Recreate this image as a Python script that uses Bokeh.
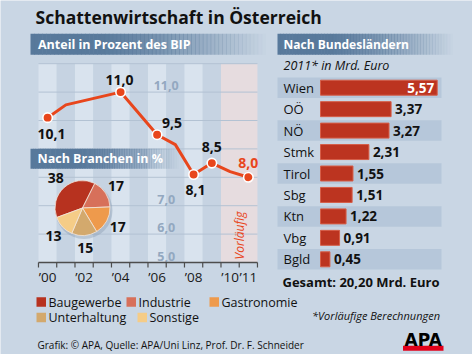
import math
from bokeh.plotting import figure
from bokeh.models import Range1d
from bokeh.embed import file_html
from bokeh.resources import INLINE
from bokeh.core.properties import value

# ---------------- data ----------------
title = "Schattenwirtschaft in Österreich"
head_line = "Anteil in Prozent des BIP"
head_pie = "Nach Branchen in %"
head_bar = "Nach Bundesländern"
sub_bar = "2011* in Mrd. Euro"

years = [2000, 2001, 2004, 2006, 2007, 2008, 2009, 2010, 2011]
share_pct = [10.1, 10.55, 11.0, 9.5, 9.15, 8.1, 8.5, 8.2, 8.0]
labelled_years = [2000, 2004, 2006, 2008, 2009, 2011]
forecast_years = [2010, 2011]
forecast_label = "Vorläufig"
tick_years = [2000, 2002, 2004, 2006, 2008, 2010, 2011]
tick_labels = ["’00", "’02", "’04", "’06", "’08", "’10", "’11"]
value_ticks = [11.0, 7.0, 6.0, 5.0]
grid_values = [6, 7, 8, 9, 10, 11, 12]

branches = ["Baugewerbe", "Industrie", "Gastronomie", "Unterhaltung", "Sonstige"]
branch_pct = [38, 17, 17, 15, 13]

states = ["Wien", "OÖ", "NÖ", "Stmk", "Tirol", "Sbg", "Ktn", "Vbg", "Bgld"]
state_bn = [5.57, 3.37, 3.27, 2.31, 1.55, 1.51, 1.22, 0.91, 0.45]
total_bn = 20.20
total_text = "Gesamt: 20,20 Mrd. Euro"
note_text = "*Vorläufige Berechnungen"
source_text = "Grafik: © APA, Quelle: APA/Uni Linz, Prof. Dr. F. Schneider"

# ---------------- style ----------------
W, H = 472, 354
FONT = value("Open Sans")
BG = "#c9d6e4"
HEAD = "#58799b"
LINE = "#e8461c"
BAR = "#bc3420"
BAR_EDGE = "#d65e48"
BAND = "#b6c7da"
STRIPE_LIGHT = "#d9e3ee"
STRIPE_DARK = "#c6d3e2"
FORECAST_BAND = "#e6dcdf"
GRID = "#b3c2d3"
AXIS = "#4d4d4d"
VALUE_TICK = "#93a8c0"
BRANCH_COLORS = ["#b7321f", "#d7705a", "#ee9a4c", "#d3a96d", "#f5cc87"]


def fmt(v, d=1):
    return f"{v:.{d}f}".replace(".", ",")


def Y(ypix):
    return H - ypix


p = figure(width=W, height=H, x_range=Range1d(0, W), y_range=Range1d(0, H),
           output_backend="svg", toolbar_location=None, x_axis_type=None,
           y_axis_type=None, min_border=0, min_border_left=0, min_border_right=0,
           min_border_top=0, min_border_bottom=0, outline_line_color=None,
           background_fill_color=BG, border_fill_color=BG)
p.grid.visible = False

# ---- scales for the line chart (years / percent) ----
YR_X0, YR_PX = 47.1, 18.25      # pixel of year 2000, pixels per year
PCT_Y5, PCT_PX = 262.0, 28.4    # pixel (from top) of 5.0 %, pixels per point
p.extra_x_ranges["yr"] = Range1d(2000 - YR_X0 / YR_PX, 2000 + (W - YR_X0) / YR_PX)
yb5 = H - PCT_Y5
p.extra_y_ranges["pct"] = Range1d(5 - yb5 / PCT_PX, 5 + (H - yb5) / PCT_PX)

# ---- scales for the bar chart ----
EUR_X0, EUR_PX = 320.0, 20.95
p.extra_x_ranges["eur"] = Range1d(-EUR_X0 / EUR_PX, (W - EUR_X0) / EUR_PX)
ROW_Y0, ROW_PX = 87.2, 21.45
r0 = H - ROW_Y0
p.extra_y_ranges["row"] = Range1d(r0 / ROW_PX, (r0 - H) / ROW_PX)

LC = dict(x_range_name="yr", y_range_name="pct")
MID = dict(text_baseline="middle")

# ---- title ----
p.text(x=[35], y=[Y(16.5)], text=[title], text_font=FONT, text_font_size="17.5px",
       text_font_style="bold", text_color="#111111", **MID)


# ---- header bars with fade ----
def header(x0, x1, y0, y1, solid=0.3, n=60):
    lefts, rights, alphas = [], [], []
    for k in range(n):
        lefts.append(x0 + (x1 - x0) * k / n)
        rights.append(x0 + (x1 - x0) * (k + 1) / n + 0.6)
        t = (k + 0.5) / n
        t = 0 if t < solid else (t - solid) / (1 - solid)
        alphas.append(max(0.0, 1 - t ** 1.2))
    p.quad(left=lefts, right=rights, top=Y(y0), bottom=Y(y1), fill_color=HEAD,
           fill_alpha=alphas, line_color=None)


header(30, 265, 33.3, 54.3)
header(277, 452, 33.3, 54.3)
p.text(x=[37.5], y=[Y(43.8)], text=[head_line], text_font=FONT, text_font_size="12.5px",
       text_font_style="bold", text_color="white", **MID)
p.text(x=[283], y=[Y(43.8)], text=[head_bar], text_font=FONT, text_font_size="12px",
       text_font_style="bold", text_color="white", **MID)
p.text(x=[283], y=[Y(64.5)], text=[sub_bar], text_font=FONT, text_font_size="12.5px",
       text_font_style="italic", text_color="#111111", **MID)

# ---- line chart background ----
first, last = min(tick_years), max(tick_years)
hist = [yr for yr in range(first, last + 1) if yr not in forecast_years]
p.quad(left=[yr - 0.5 for yr in hist], right=[yr + 0.5 for yr in hist],
       bottom=5.0, top=max(grid_values),
       fill_color=[STRIPE_LIGHT if yr % 2 == 0 else STRIPE_DARK for yr in hist],
       line_color=None, **LC)
p.quad(left=[min(forecast_years) - 0.5], right=[max(forecast_years) + 0.5],
       bottom=5.0, top=max(grid_values), fill_color=FORECAST_BAND, line_color=None, **LC)
p.segment(x0=first - 0.5, x1=last + 0.5, y0=grid_values, y1=grid_values,
          line_color=GRID, line_width=1, **LC)
p.text(x=[2006.5] * len(value_ticks), y=value_ticks, text=[fmt(v) for v in value_ticks],
       y_offset=-2, text_font=FONT, text_font_size="12.5px", text_font_style="bold",
       text_color=VALUE_TICK, text_align="center", text_baseline="bottom", **LC)
p.text(x=[max(forecast_years) - 0.5], y=[5.95], text=[forecast_label], angle=math.pi / 2,
       text_font=FONT, text_font_size="12px", text_font_style="italic",
       text_color=LINE, text_align="center", text_baseline="middle", **LC)

# axis
p.segment(x0=[first - 0.5], x1=[last + 0.5], y0=[5.0], y1=[5.0],
          line_color=AXIS, line_width=1.5, **LC)
bounds = [yr - 0.5 for yr in range(first, last + 2)]
p.segment(x0=bounds, x1=bounds, y0=5.0, y1=5.0 - 5 / PCT_PX,
          line_color=AXIS, line_width=1.2, **LC)
p.text(x=tick_years, y=[5.0] * len(tick_years), text=tick_labels, y_offset=14,
       text_font=FONT, text_font_size="13.5px", text_color="#1a1a1a",
       text_align="center", text_baseline="middle", **LC)

# pie header (semi transparent over the chart)
header(30, 178, 148.3, 168.3, solid=0.35)
p.text(x=[37], y=[Y(158)], text=[head_pie], text_font=FONT, text_font_size="12.5px",
       text_font_style="bold", text_color="white", **MID)

# the line
p.line(x=years, y=share_pct, line_color=LINE, line_width=3, line_join="round", **LC)
lab_vals = [share_pct[years.index(yr)] for yr in labelled_years]
p.scatter(x=labelled_years, y=lab_vals, size=9.5, fill_color=LINE, line_color="white",
          line_width=1.6, **LC)
lab_dx = [4, -1, 15, 2, 0, 0]
lab_dy = [16.5, -12.5, -11.5, 16, -16, -14]
p.text(x=labelled_years, y=lab_vals, text=[fmt(v) for v in lab_vals],
       x_offset=lab_dx, y_offset=lab_dy, text_font=FONT, text_font_size="14px",
       text_font_style="bold",
       text_color=[LINE if yr in forecast_years else "#111111" for yr in labelled_years],
       text_align="center", text_baseline="middle", **LC)

# ---- pie ----
PCX, PCY, PR = 82.0, Y(207.5), 27.5
PIE_START = math.radians(200.2)
total_pct = sum(branch_pct)
starts, ends, mids = [], [], []
cum = 0
for v in branch_pct:
    a0 = PIE_START - 2 * math.pi * cum / total_pct
    cum += v
    a1 = PIE_START - 2 * math.pi * cum / total_pct
    starts.append(a1)
    ends.append(a0)
    mids.append((a0 + a1) / 2)
p.circle(x=[PCX + 1.5], y=[PCY - 2.5], radius=PR + 1, radius_units="screen",
         fill_color="#7f93a8", fill_alpha=0.35, line_color=None)
p.wedge(x=PCX, y=PCY, radius=PR, radius_units="screen", start_angle=starts,
        end_angle=ends, direction="anticlock", fill_color=BRANCH_COLORS,
        line_color="#f3e6dc", line_width=0.8)
LR = 40
p.text(x=[PCX + LR * math.cos(m) for m in mids], y=[PCY + LR * math.sin(m) for m in mids],
       text=[str(v) for v in branch_pct], text_font=FONT, text_font_size="14px",
       text_font_style="bold", text_color="#111111", text_align="center",
       text_baseline="middle")

# ---- legend ----
leg_x = [36, 126, 209, 36, 137]
leg_y = [301.5, 301.5, 301.5, 317.0, 317.0]
p.quad(left=leg_x, right=[x + 9.5 for x in leg_x], top=[Y(y - 4.75) for y in leg_y],
       bottom=[Y(y + 4.75) for y in leg_y], fill_color=BRANCH_COLORS, line_color=None)
p.text(x=[x + 12 for x in leg_x], y=[Y(y) for y in leg_y], text=branches,
       text_font=FONT, text_font_size="12.5px", text_color="#111111", **MID)

# ---- bar chart ----
RB = dict(y_range_name="row")
idx = list(range(len(states)))
band_idx = [i for i in idx if i % 2 == 0]
p.hbar(y=band_idx, left=277, right=441, height=20.5 / ROW_PX, fill_color=BAND,
       line_color=None, **RB)
p.text(x=[283] * len(states), y=idx, text=states, text_font=FONT, text_font_size="13px",
       text_color="#111111", text_baseline="middle", **RB)
p.hbar(y=idx, left=0, right=state_bn, height=15 / ROW_PX, fill_color=BAR,
       line_color=BAR_EDGE, line_width=1, x_range_name="eur", **RB)
vmax = max(state_bn)
inside = [i for i in idx if state_bn[i] == vmax]
outside = [i for i in idx if state_bn[i] != vmax]
p.text(x=[state_bn[i] for i in outside], y=outside, text=[fmt(state_bn[i], 2) for i in outside],
       x_offset=4, text_font=FONT, text_font_size="13.5px", text_font_style="bold",
       text_color="#111111", text_baseline="middle", x_range_name="eur", **RB)
p.text(x=[state_bn[i] for i in inside], y=inside, text=[fmt(state_bn[i], 2) for i in inside],
       x_offset=-3, text_font=FONT, text_font_size="13.5px", text_font_style="bold",
       text_color="white", text_align="right", text_baseline="middle",
       x_range_name="eur", **RB)
p.text(x=[282], y=[Y(281)], text=[total_text], text_font=FONT, text_font_size="13px",
       text_font_style="bold", text_color="#111111", **MID)
p.text(x=[439.5], y=[Y(314.5)], text=[note_text], text_font=FONT, text_font_size="11px",
       text_font_style="italic", text_color="#111111", text_align="right", **MID)

# ---- footer ----
p.text(x=[37], y=[Y(344.5)], text=[source_text], text_font=FONT, text_font_size="10px",
       text_color="#111111", **MID)
p.quad(left=[402.5], right=[443], top=[Y(345.3)], bottom=[Y(350.3)], fill_color="#e2001a",
       line_color=None)
p.text(x=[422.7], y=[Y(339)], text=["APA"], text_font=value("DejaVu Sans"),
       text_font_size="17px", text_font_style="bold", text_color="#000000",
       text_align="center", **MID)

open("out.html", "w").write(file_html(p, INLINE))
